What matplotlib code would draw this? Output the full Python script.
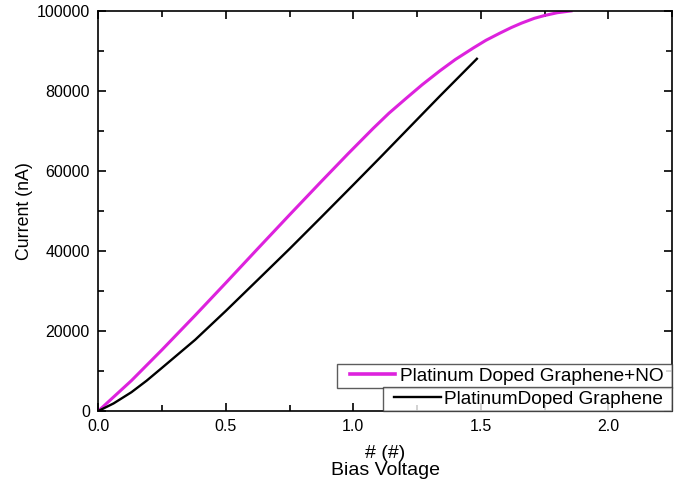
import matplotlib.pyplot as plt
from matplotlib.lines import Line2D
from matplotlib.legend_handler import HandlerLine2D
from matplotlib.ticker import MultipleLocator

plt.rcParams['font.family'] = ['Liberation Sans', 'DejaVu Sans']

# Platinum doped graphene + NO (magenta)
v_no = [0.0, 0.13, 0.25, 0.38, 0.5, 0.626, 0.75, 0.874, 0.98, 1.078, 1.14,
        1.209, 1.27, 1.34, 1.40, 1.471, 1.52, 1.575, 1.62, 1.66, 1.71, 1.75,
        1.8, 1.86]
i_no = [0, 7600, 15300, 23900, 32000, 40600, 49000, 57300, 64300, 70600, 74400,
        78200, 81500, 85000, 87800, 90700, 92600, 94400, 95800, 96900, 98100,
        98800, 99500, 100000]

# Platinum doped graphene (black)
v_pt = [0.0, 0.06, 0.13, 0.19, 0.25, 0.38, 0.5, 0.626, 0.75, 0.874, 1.0, 1.105,
        1.288, 1.34, 1.488]
i_pt = [0, 1900, 4700, 7600, 10800, 17800, 25000, 32800, 40500, 48400, 56500,
        63300, 75300, 78700, 88200]

lbl_no = "Platinum Doped Graphene+NO "
lbl_pt = "PlatinumDoped Graphene "

fig = plt.figure(figsize=(6.83, 4.87), dpi=100)
ax = fig.add_axes([0.1439, 0.156, 0.84, 0.822])

ax.plot(v_no, i_no, color='#dd22dd', linewidth=2.2, solid_capstyle='butt',
        solid_joinstyle='round')
ax.plot(v_pt, i_pt, color='black', linewidth=1.7, solid_capstyle='butt',
        solid_joinstyle='round')

ax.set_xlim(0, 2.25)
ax.set_ylim(0, 100000)
ax.xaxis.set_major_locator(MultipleLocator(0.5))
ax.xaxis.set_minor_locator(MultipleLocator(0.25))
ax.yaxis.set_major_locator(MultipleLocator(20000))
ax.yaxis.set_minor_locator(MultipleLocator(10000))
ax.xaxis.set_major_formatter(lambda v, p: f"{v:.1f}")
ax.yaxis.set_major_formatter(lambda v, p: f"{v:.0f}")

ax.tick_params(which='both', direction='in', top=True, right=True, width=1.2,
               labelsize=11.5)
ax.tick_params(which='major', length=6)
ax.tick_params(which='minor', length=4)
ax.tick_params(axis='y', pad=6)
ax.tick_params(axis='x', pad=6)
for s in ax.spines.values():
    s.set_linewidth(1.2)

ax.set_ylabel("Current (nA)", fontsize=12.8, labelpad=3)
ax.set_xlabel("# (#)\nBias Voltage", fontsize=14, labelpad=8, linespacing=1.0)

leg_kw = dict(loc='lower right', frameon=True, fancybox=False, fontsize=13.7,
              borderpad=0.18, borderaxespad=0, handlelength=2.87,
              edgecolor='#333333')
h_no = Line2D([], [], color='#dd22dd', linewidth=2.6)
h_pt = Line2D([], [], color='black', linewidth=1.7)
leg1 = ax.legend([h_no], [lbl_no], bbox_to_anchor=(1, 0.0575),
                 handler_map={h_no: HandlerLine2D(xpad=0.51)},
                 handletextpad=0.26, **leg_kw)
leg1.get_frame().set_linewidth(1.0)
ax.add_artist(leg1)
leg2 = ax.legend([h_pt], [lbl_pt], bbox_to_anchor=(1, 0),
                 handler_map={h_pt: HandlerLine2D(xpad=0.4)},
                 handletextpad=0.16, **leg_kw)
leg2.get_frame().set_linewidth(1.0)

fig.savefig('out.png', dpi=100)
